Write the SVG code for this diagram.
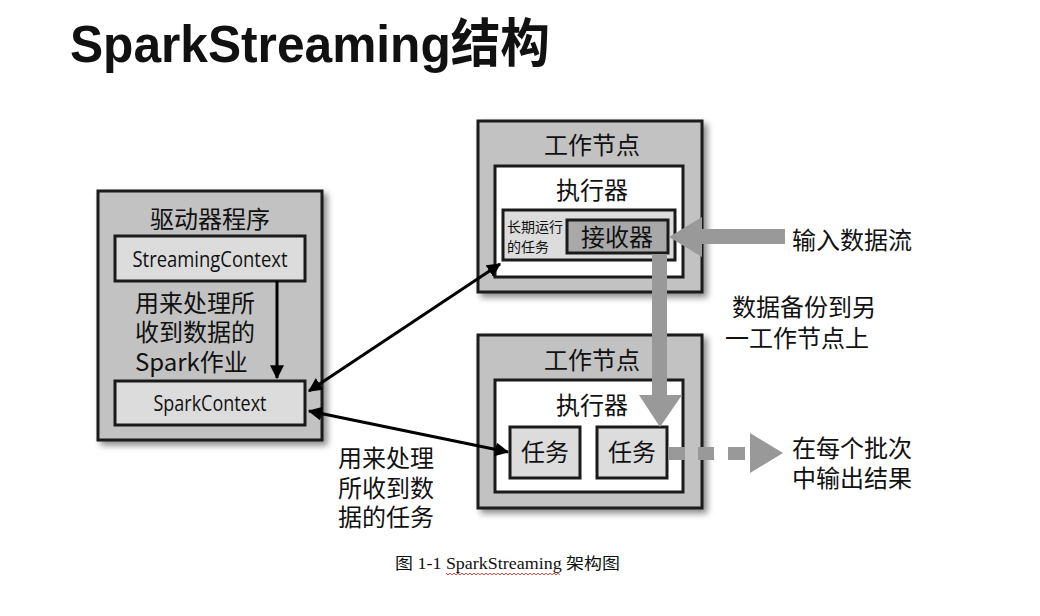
<svg xmlns="http://www.w3.org/2000/svg" width="1040" height="616" viewBox="0 0 1040 616">
<defs>
<filter id="sh" x="-10%" y="-10%" width="130%" height="130%">
<feDropShadow dx="4" dy="4" stdDeviation="3" flood-color="#000" flood-opacity="0.45"/>
</filter>
<marker id="ah" viewBox="0 0 12 12" refX="11" refY="6" markerWidth="14" markerHeight="14" orient="auto-start-reverse" markerUnits="userSpaceOnUse">
<path d="M0,0 L12,6 L0,12 z" fill="#000"/>
</marker>
</defs>
<style>
.outer{fill:#c2c2c2;stroke:#1a1a1a;stroke-width:3}
.exec{fill:#fff;stroke:#1a1a1a;stroke-width:3}
.inner{fill:#dcdcdc;stroke:#1a1a1a;stroke-width:3}
.recv{fill:#a8a8a8;stroke:#1a1a1a;stroke-width:3}
.cjk{font-family:"Noto Sans CJK SC","Liberation Serif",serif;fill:#111}
.lbl{font-size:24px}
.lat{font-family:"Open Sans","Liberation Sans",sans-serif;font-size:22px;fill:#111}
.blk{stroke:#000;stroke-width:3;fill:none}
.gray{fill:#999;stroke:none}
</style>
<rect width="1040" height="616" fill="#fff"/>
<text x="70" y="62" font-family="'Liberation Sans','Noto Sans CJK SC',sans-serif" font-weight="bold" font-size="52" fill="#111" textLength="480" lengthAdjust="spacingAndGlyphs">SparkStreaming结构</text>

<g id="driver">
<rect class="outer" x="98" y="191" width="224" height="249" filter="url(#sh)"/>
<text class="cjk lbl" x="210" y="228" text-anchor="middle">驱动器程序</text>
</g>
<g id="streamingcontext">
<rect class="inner" x="115" y="236" width="190" height="45"/>
<text class="lat" x="210" y="267" text-anchor="middle" textLength="155" lengthAdjust="spacingAndGlyphs">StreamingContext</text>
</g>
<g id="sparkjob-label">
<text class="cjk lbl" x="135" y="312">用来处理所</text>
<text class="cjk lbl" x="135" y="341">收到数据的</text>
<text class="cjk lbl" x="135" y="371">Spark作业</text>
</g>
<g id="sparkcontext">
<rect class="inner" x="115" y="381" width="190" height="44"/>
<text class="lat" x="210" y="411" text-anchor="middle" textLength="113" lengthAdjust="spacingAndGlyphs">SparkContext</text>
</g>

<g id="worker1">
<rect class="outer" x="478" y="121" width="224" height="171" filter="url(#sh)"/>
<text class="cjk lbl" x="592" y="154" text-anchor="middle">工作节点</text>
<rect class="exec" x="495" y="166" width="188" height="111"/>
<text class="cjk lbl" x="592" y="199" text-anchor="middle">执行器</text>
<rect class="inner" x="503" y="210" width="172" height="50"/>
<text class="cjk" font-size="14" x="507" y="232">长期运行</text>
<text class="cjk" font-size="14" x="507" y="252">的任务</text>
</g>
<g id="receiver">
<rect class="recv" x="567" y="220" width="101" height="33"/>
<text class="cjk lbl" x="617" y="246" text-anchor="middle">接收器</text>
</g>

<g id="worker2">
<rect class="outer" x="478" y="335" width="224" height="173" filter="url(#sh)"/>
<text class="cjk lbl" x="592" y="369" text-anchor="middle">工作节点</text>
<rect class="exec" x="495" y="380" width="188" height="112"/>
<text class="cjk lbl" x="592" y="414" text-anchor="middle">执行器</text>
</g>
<g id="task1">
<rect class="inner" x="510" y="427" width="70" height="51"/>
<text class="cjk lbl" x="545" y="461" text-anchor="middle">任务</text>
</g>
<g id="task2">
<rect class="inner" x="597" y="427" width="70" height="51"/>
<text class="cjk lbl" x="632" y="461" text-anchor="middle">任务</text>
</g>

<g id="connectors">
<line class="blk" x1="277" y1="281" x2="277" y2="378" marker-end="url(#ah)"/>
<line class="blk" x1="309" y1="391" x2="500" y2="264" marker-start="url(#ah)" marker-end="url(#ah)"/>
<line class="blk" x1="309" y1="411" x2="508" y2="452" marker-start="url(#ah)" marker-end="url(#ah)"/>
<path class="gray" d="M785,229 L702,229 L702,217 L669,237 L702,257 L702,244 L785,244 z"/>
<path class="gray" d="M652,254 L667,254 L667,395 L682,395 L660,427 L639,395 L652,395 z"/>
<rect class="gray" x="668" y="447" width="17" height="13"/>
<rect class="gray" x="698" y="447" width="16" height="13"/>
<rect class="gray" x="728" y="447" width="17" height="13"/>
<path class="gray" d="M750,433 L783,453 L750,473 z"/>
</g>

<g id="labels">
<text class="cjk lbl" x="792" y="249">输入数据流</text>
<text class="cjk lbl" x="732" y="316">数据备份到另</text>
<text class="cjk lbl" x="725" y="347">一工作节点上</text>
<text class="cjk lbl" x="792" y="457">在每个批次</text>
<text class="cjk lbl" x="792" y="487">中输出结果</text>
<text class="cjk lbl" x="338" y="467">用来处理</text>
<text class="cjk lbl" x="338" y="497">所收到数</text>
<text class="cjk lbl" x="338" y="526">据的任务</text>
</g>

<g id="caption">
<text x="395" y="569" font-family="'Liberation Serif','Noto Sans CJK SC',serif" font-size="16" fill="#111" textLength="225" lengthAdjust="spacingAndGlyphs">图 1-1 SparkStreaming 架构图</text>
<path d="M446,573 l2,2 l2,-2 l2,2 l2,-2 l2,2 l2,-2 l2,2 l2,-2 l2,2 l2,-2 l2,2 l2,-2 l2,2 l2,-2 l2,2 l2,-2 l2,2 l2,-2 l2,2 l2,-2 l2,2 l2,-2 l2,2 l2,-2 l2,2 l2,-2 l2,2 l2,-2 l2,2 l2,-2 l2,2 l2,-2 l2,2 l2,-2 l2,2 l2,-2 l2,2 l2,-2 l2,2 l2,-2 l2,2 l2,-2 l2,2 l2,-2 l2,2 l2,-2 l2,2 l2,-2 l2,2 l2,-2 l2,2 l2,-2 l2,2 l2,-2 l2,2 l2,-2 l2,2" fill="none" stroke="#d22" stroke-width="0.8"/>
</g>
</svg>
